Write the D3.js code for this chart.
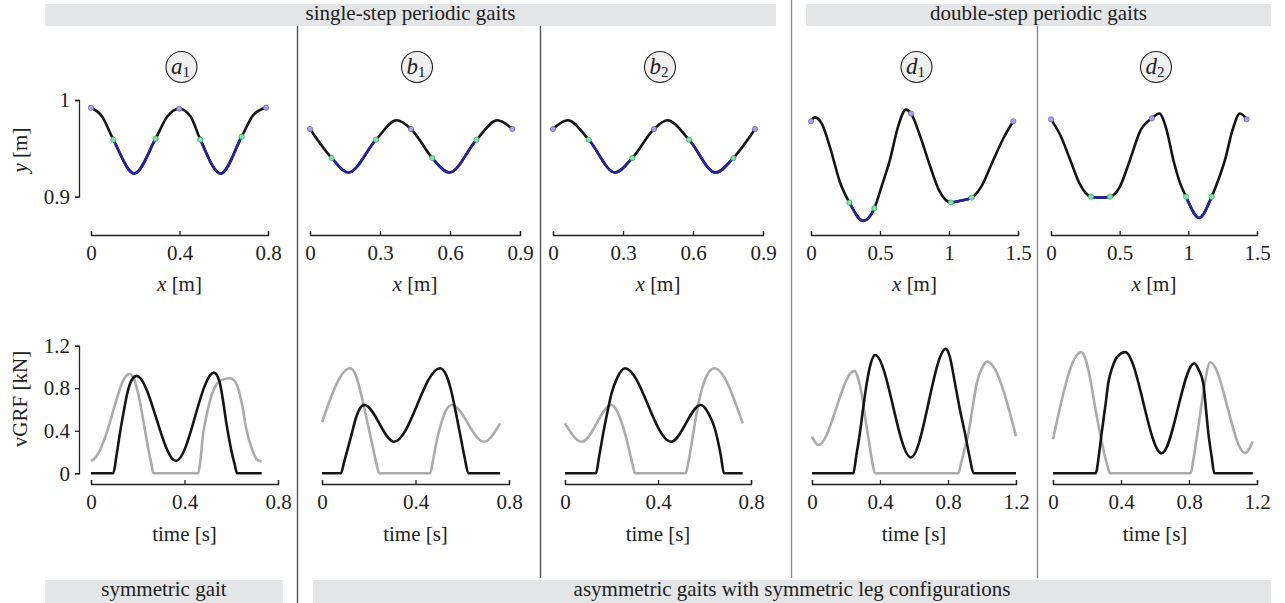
<!DOCTYPE html>
<html>
<head>
<meta charset="utf-8">
<script src="https://d3js.org/d3.v7.min.js"></script>
<style>
body { margin: 0; background: #fff; }
text { font-family: "Liberation Serif", "Times New Roman", serif; fill: #222; }
</style>
</head>
<body>
<div id="chart"></div>
<script>
// ---- data ----
// hip height y [m] against forward position x [m]
var a1Path = [[0,0.992],[0.05,0.983],[0.101,0.959],[0.196,0.924],[0.292,0.960],[0.345,0.983],[0.399,0.991],[0.45,0.983],[0.494,0.959],[0.586,0.924],[0.681,0.962],[0.735,0.985],[0.791,0.992]];
var b1Path = [[0,0.970],[0.093,0.940],[0.164,0.925],[0.283,0.959],[0.371,0.979],[0.433,0.970],[0.524,0.940],[0.597,0.925],[0.714,0.959],[0.803,0.979],[0.867,0.970]];
var b2Path = [[0,0.970],[0.063,0.979],[0.153,0.959],[0.266,0.925],[0.340,0.940],[0.433,0.970],[0.49,0.979],[0.583,0.959],[0.697,0.925],[0.773,0.940],[0.866,0.970]];
var d1Path = [[0,0.978],[0.029,0.982],[0.08,0.975],[0.14,0.950],[0.21,0.915],[0.278,0.894],[0.379,0.875],[0.459,0.888],[0.51,0.91],[0.572,0.938],[0.63,0.972],[0.688,0.990],[0.725,0.986],[0.79,0.963],[0.862,0.932],[0.93,0.906],[1.014,0.894],[1.09,0.896],[1.164,0.899],[1.24,0.912],[1.321,0.938],[1.40,0.962],[1.466,0.978]];
var d2Path = [[0,0.980],[0.07,0.963],[0.14,0.938],[0.21,0.913],[0.291,0.900],[0.36,0.899],[0.43,0.900],[0.50,0.910],[0.575,0.938],[0.65,0.968],[0.734,0.981],[0.789,0.986],[0.84,0.970],[0.891,0.938],[0.94,0.914],[0.983,0.900],[1.078,0.878],[1.17,0.900],[1.22,0.918],[1.267,0.938],[1.32,0.968],[1.376,0.986],[1.425,0.980]];

// stretches drawn in blue (x intervals)
var a1Blue = [[0.101,0.292],[0.494,0.681]];
var b1Blue = [[0.093,0.283],[0.524,0.714]];
var b2Blue = [[0.153,0.340],[0.583,0.773]];
var d1Blue = [[0.278,0.459],[1.014,1.164]];
var d2Blue = [[0.291,0.43],[0.983,1.17]];

// green marker x positions and purple marker x positions
var a1Green = [0.101,0.292,0.494,0.681], a1Purple = [0,0.399,0.791];
var b1Green = [0.093,0.283,0.524,0.714], b1Purple = [0,0.433,0.867];
var b2Green = [0.153,0.340,0.583,0.773], b2Purple = [0,0.433,0.866];
var d1Green = [0.278,0.459,1.014,1.164], d1Purple = [0,0.725,1.466];
var d2Green = [0.291,0.43,0.983,1.17],   d2Purple = [0,0.734,1.425];

// vertical ground reaction force [kN] against time [s]
var a1Black = [[0,0],[0.095,0],[0.11,0.18],[0.124,0.38],[0.14,0.58],[0.155,0.75],[0.175,0.88],[0.195,0.916],[0.364,0.116],[0.526,0.947],[0.55,0.86],[0.565,0.68],[0.58,0.46],[0.60,0.22],[0.615,0.08],[0.625,0],[0.73,0]];
var a1Gray  = [[0,0.116],[0.02,0.15],[0.045,0.25],[0.067,0.38],[0.09,0.55],[0.11,0.7],[0.135,0.86],[0.164,0.934],[0.185,0.88],[0.205,0.72],[0.225,0.48],[0.245,0.23],[0.258,0.09],[0.267,0],[0.459,0],[0.468,0.12],[0.48,0.376],[0.495,0.55],[0.51,0.69],[0.53,0.81],[0.56,0.88],[0.595,0.894],[0.62,0.85],[0.645,0.66],[0.666,0.40],[0.69,0.22],[0.71,0.13],[0.73,0.11]];
var b1Black = [[0,0],[0.081,0],[0.095,0.11],[0.11,0.23],[0.127,0.37],[0.145,0.52],[0.162,0.61],[0.181,0.643],[0.309,0.297],[0.505,0.988],[0.53,0.93],[0.55,0.8],[0.57,0.6],[0.59,0.376],[0.61,0.15],[0.626,0],[0.762,0]];
var b1Gray  = [[0,0.48],[0.12,0.988],[0.145,0.92],[0.17,0.72],[0.195,0.47],[0.215,0.27],[0.232,0.1],[0.245,0],[0.462,0],[0.475,0.12],[0.49,0.3],[0.51,0.47],[0.53,0.59],[0.555,0.643],[0.693,0.297],[0.762,0.47]];
var b2Black = [[0,0],[0.133,0],[0.147,0.16],[0.163,0.36],[0.18,0.55],[0.2,0.75],[0.225,0.9],[0.258,0.988],[0.456,0.297],[0.584,0.643],[0.6,0.62],[0.62,0.55],[0.64,0.45],[0.655,0.33],[0.67,0.17],[0.684,0],[0.764,0]];
var b2Gray  = [[0,0.47],[0.072,0.297],[0.2,0.643],[0.22,0.6],[0.24,0.5],[0.26,0.36],[0.278,0.2],[0.29,0.09],[0.301,0],[0.519,0],[0.532,0.12],[0.548,0.33],[0.565,0.55],[0.585,0.76],[0.61,0.92],[0.642,0.988],[0.764,0.47]];
var d1Black = [[0,0],[0.243,0],[0.26,0.16],[0.28,0.36],[0.30,0.6],[0.322,0.847],[0.345,1.03],[0.371,1.113],[0.582,0.15],[0.788,1.17],[0.81,1.1],[0.841,0.847],[0.87,0.6],[0.9,0.376],[0.925,0.17],[0.953,0],[1.2,0]];
var d1Gray  = [[0,0.345],[0.037,0.266],[0.249,0.963],[0.27,0.9],[0.295,0.72],[0.315,0.5],[0.335,0.3],[0.352,0.13],[0.371,0],[0.86,0],[0.875,0.08],[0.89,0.18],[0.905,0.27],[0.92,0.376],[0.945,0.62],[0.969,0.847],[1.0,0.99],[1.03,1.05],[1.2,0.35]];
var d2Black = [[0,0],[0.251,0],[0.27,0.17],[0.286,0.376],[0.31,0.66],[0.325,0.847],[0.35,1.0],[0.38,1.1],[0.424,1.14],[0.639,0.188],[0.831,1.035],[0.855,0.98],[0.884,0.847],[0.9,0.6],[0.914,0.376],[0.932,0.17],[0.949,0],[1.175,0]];
var d2Gray  = [[0,0.32],[0.165,1.14],[0.19,1.08],[0.22,0.88],[0.25,0.6],[0.28,0.35],[0.305,0.16],[0.322,0.06],[0.335,0],[0.81,0],[0.825,0.12],[0.845,0.33],[0.865,0.55],[0.89,0.82],[0.924,1.045],[1.13,0.19],[1.175,0.3]];

// ticks
var xTicksA = [0,0.4,0.8], xTicksB = [0,0.3,0.6,0.9], xTicksD = [0,0.5,1,1.5];
var tTicksShort = [0,0.4,0.8], tTicksLong = [0,0.4,0.8,1.2];
var yTicks = [0.9,1], fTicks = [0,0.4,0.8,1.2];

var topBands = ["single-step periodic gaits","double-step periodic gaits"];
var bottomBands = ["symmetric gait","asymmetric gaits with symmetric leg configurations"];

// ---- drawing ----
var width = 1285, height = 603;
var fs = 21;
var svg = d3.select("#chart").append("svg").attr("width", width).attr("height", height);

var blue = "#23239a", dark = "#151515", grey = "#ababab";

// bands
var bandBox = [[45,4,731,22],[806,4,465,22]];
var bandBoxB = [[45,580,238,23],[313,580,958,23]];
topBands.forEach(function(t,i){
  var b = bandBox[i];
  svg.append("rect").attr("x",b[0]).attr("y",b[1]).attr("width",b[2]).attr("height",b[3]).attr("fill","#e4e5e7");
  svg.append("text").attr("x",b[0]+b[2]/2).attr("y",20).attr("text-anchor","middle").attr("font-size",fs).text(t);
});
bottomBands.forEach(function(t,i){
  var b = bandBoxB[i];
  svg.append("rect").attr("x",b[0]).attr("y",b[1]).attr("width",b[2]).attr("height",b[3]).attr("fill","#e4e5e7");
  svg.append("text").attr("x",b[0]+b[2]/2).attr("y",596).attr("text-anchor","middle").attr("font-size",fs).text(t);
});

// separators
var seps = [[297.5,26,603,"#555"],[540.5,26,578,"#555"],[791.5,0,578,"#8a8a8a"],[1037.5,26,578,"#8a8a8a"]];
seps.forEach(function(s){
  svg.append("line").attr("x1",s[0]).attr("x2",s[0]).attr("y1",s[1]).attr("y2",s[2]).attr("stroke",s[3]).attr("stroke-width",1.4);
});

var topY = d3.scaleLinear().domain([0.9,1]).range([196.7,100]);
var botY = d3.scaleLinear().domain([0,1.2]).range([473.3,345.7]);

var panels = [
  {letter:"a", sub:"1", path:a1Path, blue:a1Blue, green:a1Green, purple:a1Purple, black:a1Black, gray:a1Gray,
   top:[91,268], topDom:[0,0.8], topTicks:xTicksA, bot:[91,278], botDom:[0,0.8], botTicks:tTicksShort, yaxis:true},
  {letter:"b", sub:"1", path:b1Path, blue:b1Blue, green:b1Green, purple:b1Purple, black:b1Black, gray:b1Gray,
   top:[310,520], topDom:[0,0.9], topTicks:xTicksB, bot:[322,509], botDom:[0,0.8], botTicks:tTicksShort},
  {letter:"b", sub:"2", path:b2Path, blue:b2Blue, green:b2Green, purple:b2Purple, black:b2Black, gray:b2Gray,
   top:[553,763], topDom:[0,0.9], topTicks:xTicksB, bot:[565,751], botDom:[0,0.8], botTicks:tTicksShort},
  {letter:"d", sub:"1", path:d1Path, blue:d1Blue, green:d1Green, purple:d1Purple, black:d1Black, gray:d1Gray,
   top:[811,1018], topDom:[0,1.5], topTicks:xTicksD, bot:[812,1016], botDom:[0,1.2], botTicks:tTicksLong},
  {letter:"d", sub:"2", path:d2Path, blue:d2Blue, green:d2Green, purple:d2Purple, black:d2Black, gray:d2Gray,
   top:[1051,1257], topDom:[0,1.5], topTicks:xTicksD, bot:[1053,1257], botDom:[0,1.2], botTicks:tTicksLong}
];

var defs = svg.append("defs");
var fmt = function(d){ return String(d); };

function styleAxis(g){
  g.attr("font-size",fs);
  g.selectAll(".domain").attr("stroke","#222").attr("stroke-width",1.3);
  g.selectAll(".tick line").attr("stroke","#222").attr("stroke-width",1.3);
}

panels.forEach(function(p,pi){
  var xs = d3.scaleLinear().domain(p.topDom).range(p.top);
  var xt = d3.scaleLinear().domain(p.botDom).range(p.bot);
  var g = svg.append("g");

  // panel tag
  var cx = (p.top[0]+p.top[1])/2 + 2;
  g.append("circle").attr("cx",cx).attr("cy",67).attr("r",15.5).attr("fill","#f0f0f0").attr("stroke","#222").attr("stroke-width",1.1);
  var tag = g.append("text").attr("x",cx-1).attr("y",74).attr("text-anchor","middle").attr("font-size",23);
  tag.append("tspan").attr("font-style","italic").text(p.letter);
  tag.append("tspan").attr("font-size",15).attr("dy",3).text(p.sub);

  // trajectory
  var line = d3.line().x(function(d){return xs(d[0]);}).y(function(d){return topY(d[1]);}).curve(d3.curveMonotoneX);
  g.append("path").attr("d",line(p.path)).attr("fill","none").attr("stroke",dark).attr("stroke-width",2.6);
  p.blue.forEach(function(iv,k){
    var id = "clip"+pi+"_"+k;
    defs.append("clipPath").attr("id",id).append("rect")
      .attr("x",xs(iv[0])).attr("y",60).attr("width",xs(iv[1])-xs(iv[0])).attr("height",180);
    g.append("path").attr("d",line(p.path)).attr("fill","none").attr("stroke",blue).attr("stroke-width",2.6)
      .attr("clip-path","url(#"+id+")");
  });
  function yAt(x){ return p.path.find(function(q){return q[0]===x;})[1]; }
  g.selectAll(".gdot").data(p.green).enter().append("circle")
    .attr("cx",function(d){return xs(d);}).attr("cy",function(d){return topY(yAt(d));}).attr("r",2.6)
    .attr("fill","#86e3a6").attr("stroke","#3fa866").attr("stroke-width",0.8);
  g.selectAll(".pdot").data(p.purple).enter().append("circle")
    .attr("cx",function(d){return xs(d);}).attr("cy",function(d){return topY(yAt(d));}).attr("r",2.6)
    .attr("fill","#a7a2e6").attr("stroke","#6d66c4").attr("stroke-width",0.8);

  // top x axis
  g.append("g").attr("transform","translate(0,235)")
    .call(d3.axisBottom(xs).tickValues(p.topTicks).tickSize(-4).tickPadding(10).tickFormat(fmt))
    .call(styleAxis);
  var xl = g.append("text").attr("x",(p.top[0]+p.top[1])/2).attr("y",291).attr("text-anchor","middle").attr("font-size",fs);
  xl.append("tspan").attr("font-style","italic").text("x");
  xl.append("tspan").text(" [m]");

  // force
  var fline = d3.line().x(function(d){return xt(d[0]);}).y(function(d){return botY(d[1]);}).curve(d3.curveMonotoneX);
  g.append("path").attr("d",fline(p.gray)).attr("fill","none").attr("stroke",grey).attr("stroke-width",2.6);
  g.append("path").attr("d",fline(p.black)).attr("fill","none").attr("stroke",dark).attr("stroke-width",2.6);

  g.append("g").attr("transform","translate(0,484)")
    .call(d3.axisBottom(xt).tickValues(p.botTicks).tickSize(-4).tickPadding(10).tickFormat(fmt))
    .call(styleAxis);
  g.append("text").attr("x",(p.bot[0]+p.bot[1])/2).attr("y",541).attr("text-anchor","middle").attr("font-size",fs).text("time [s]");

  if (p.yaxis) {
    svg.append("g").attr("transform","translate(79,0)")
      .call(d3.axisLeft(topY).tickValues(yTicks).tickSize(4).tickPadding(5).tickFormat(fmt))
      .call(styleAxis);
    svg.append("g").attr("transform","translate(79,0)")
      .call(d3.axisLeft(botY).tickValues(fTicks).tickSize(4).tickPadding(5).tickFormat(fmt))
      .call(styleAxis);
    var yl = svg.append("text").attr("transform","translate(27,150) rotate(-90)").attr("text-anchor","middle").attr("font-size",fs);
    yl.append("tspan").attr("font-style","italic").text("y");
    yl.append("tspan").text(" [m]");
    svg.append("text").attr("transform","translate(27,399) rotate(-90)").attr("text-anchor","middle").attr("font-size",fs).text("vGRF [kN]");
  }
});
</script>
</body>
</html>
